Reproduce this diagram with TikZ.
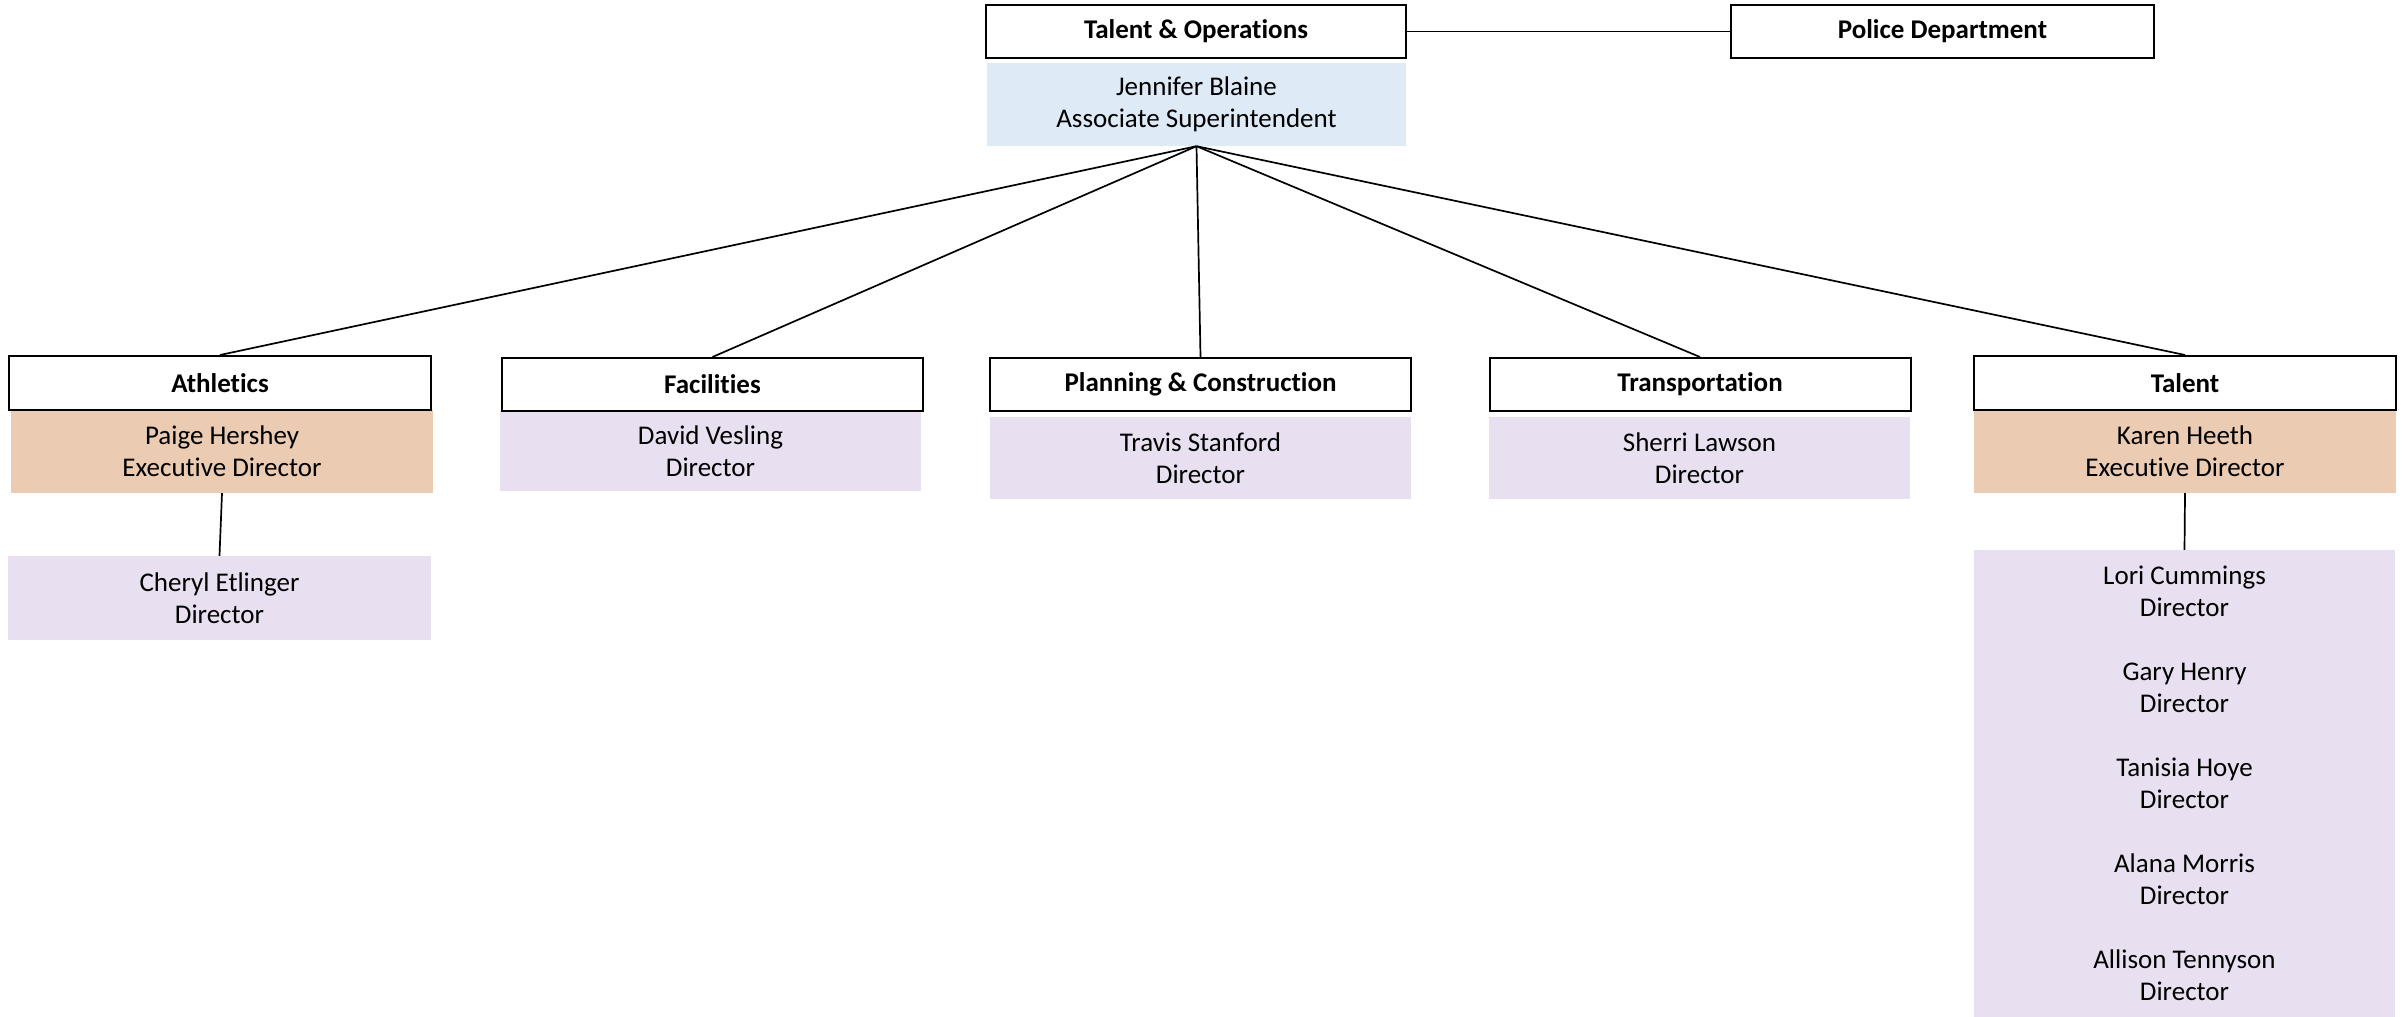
\documentclass[tikz,border=0pt]{standalone}
\usepackage{fontspec}
\setmainfont{Carlito}[Ligatures=NoCommon]
\definecolor{bluebox}{HTML}{DEEAF6}
\definecolor{peach}{HTML}{EBCBB2}
\definecolor{lav}{HTML}{E8E0F0}
\begin{document}
\begin{tikzpicture}[x=1pt,y=-1pt,
  hdr/.style={draw=black, line width=2pt, fill=white, minimum width=421pt, minimum height=53pt, inner sep=0pt, font=\fontsize{27}{32}\selectfont\bfseries},
  info/.style={minimum width=421pt, inner sep=0pt, align=center, font=\fontsize{27}{32}\selectfont},
  link/.style={line width=1.7pt, draw=black}]
\useasboundingbox (0,0) rectangle (2407,1017);
\fill[white] (0,0) rectangle (2407,1017);
% info boxes
\node[info, fill=bluebox, minimum width=419pt, minimum height=83pt] (jb) at (1196.5,104.5) {Jennifer Blaine\\Associate Superintendent};
\node[info, fill=peach, minimum width=422pt, minimum height=83pt] (paige) at (222,451.5) {Paige Hershey\\Executive Director};
\node[info, fill=lav, minimum width=423pt, minimum height=84pt] (cheryl) at (219.5,598) {Cheryl Etlinger\\Director};
\node[info, fill=lav, minimum height=80pt] (david) at (710.5,451) {David Vesling\\Director};
\node[info, fill=lav, minimum height=82pt] (travis) at (1200.5,458) {Travis Stanford\\Director};
\node[info, fill=lav, minimum height=82pt] (sherri) at (1699.5,458) {Sherri Lawson\\Director};
\node[info, fill=peach, minimum width=422pt, minimum height=83pt] (karen) at (2185,451.5) {Karen Heeth\\Executive Director};
\node[info, fill=lav, minimum height=467pt] (list) at (2184.5,783.5) {Lori Cummings\\Director\\[32pt]Gary Henry\\Director\\[32pt]Tanisia Hoye\\Director\\[32pt]Alana Morris\\Director\\[32pt]Allison Tennyson\\Director};
% header boxes
\node[hdr, minimum width=420pt] (to) at (1196,31.5) {Talent \& Operations};
\node[hdr, minimum width=423pt] (pd) at (1942.5,31.5) {Police Department};
\node[hdr, minimum width=422pt, minimum height=54pt] (ath) at (220,383) {Athletics};
\node[hdr] (fac) at (712.5,384.5) {Facilities};
\node[hdr] (pc) at (1200.5,384.5) {Planning \& Construction};
\node[hdr] (tr) at (1700,384.5) {Transportation};
\node[hdr, minimum width=422pt, minimum height=54pt] (tal) at (2185,383) {Talent};
% connectors
\draw[link] (to.east) -- (pd.west);
\draw[link] (jb.south) -- (ath.north);
\draw[link] (jb.south) -- (fac.north);
\draw[link] (jb.south) -- (pc.north);
\draw[link] (jb.south) -- (tr.north);
\draw[link] (jb.south) -- (tal.north);
\draw[link] (paige.south) -- (cheryl.north);
\draw[link] (karen.south) -- (list.north);
\end{tikzpicture}
\end{document}
